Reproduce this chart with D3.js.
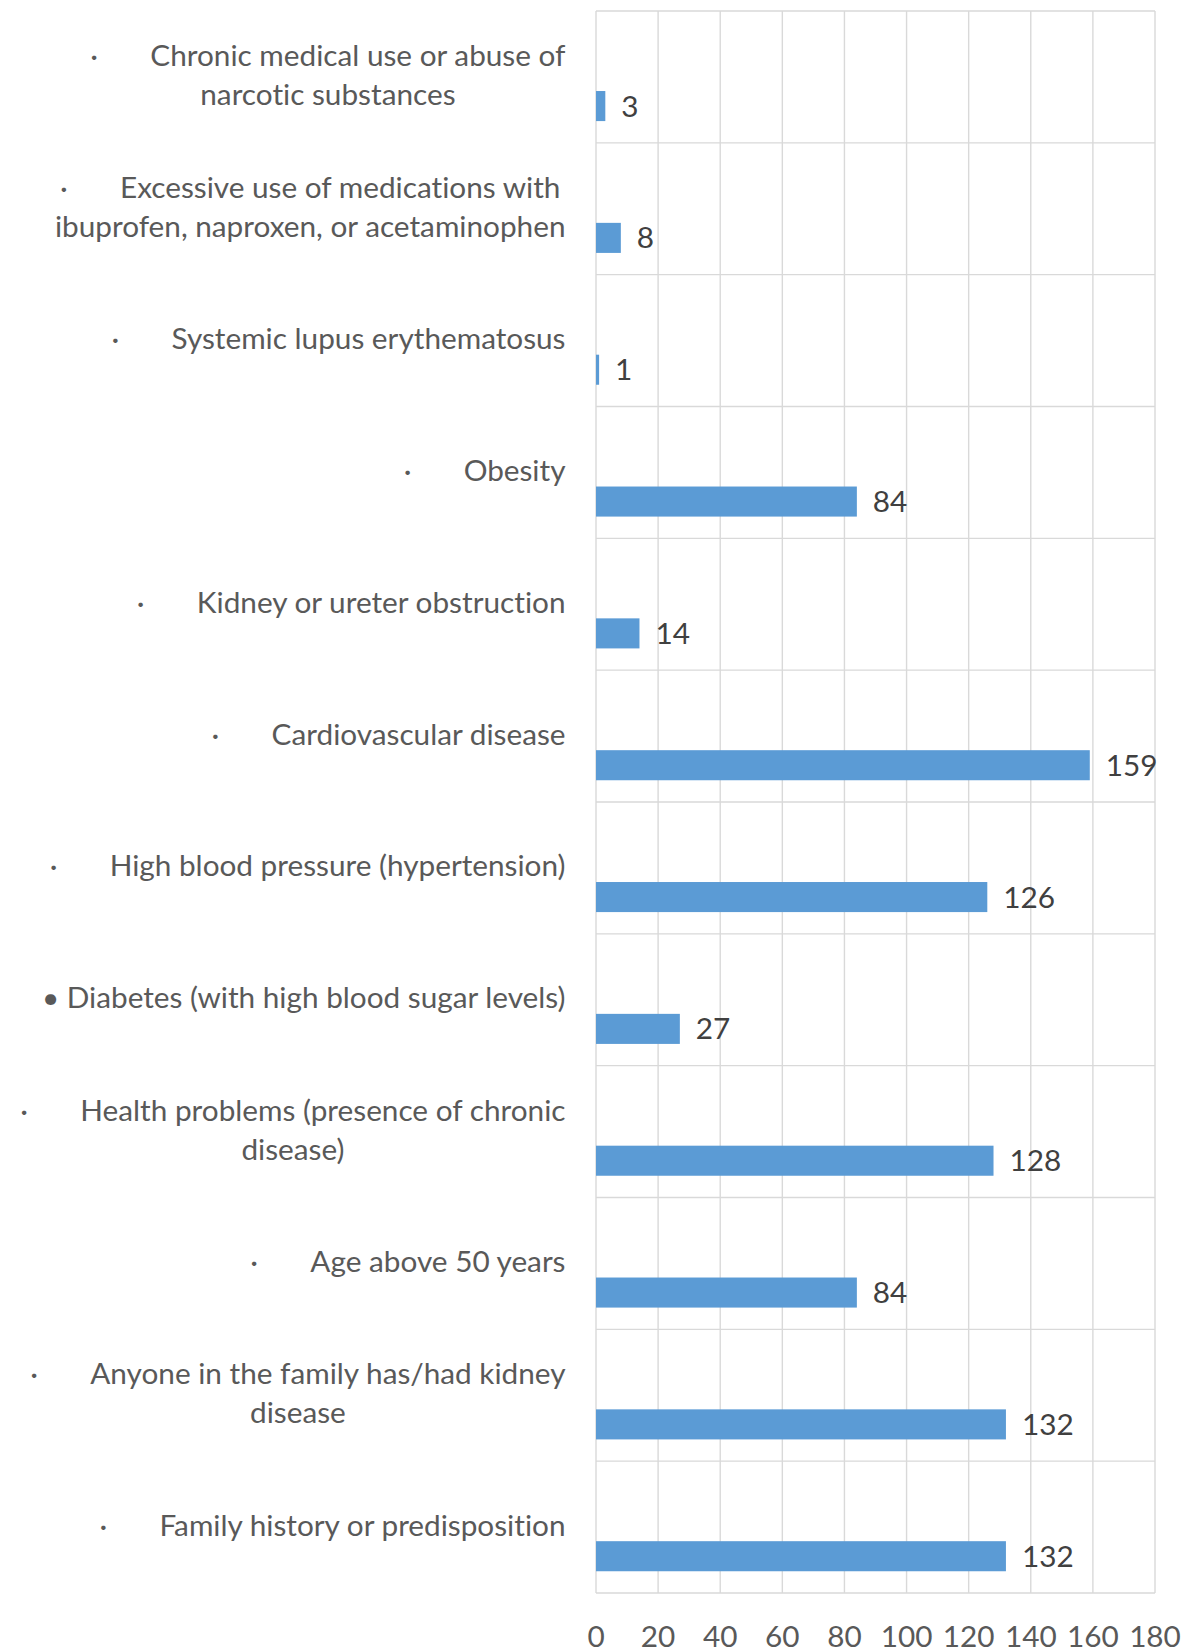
<!DOCTYPE html>
<html><head><meta charset="utf-8">
<script src="https://cdn.jsdelivr.net/npm/d3@7"></script>
<style>body{margin:0;background:#fff} text{font-variant-ligatures:none}</style></head>
<body>
<svg id="c" width="1191" height="1651"></svg>
<script>
// ---- data ----
const categories = [
  ["Chronic medical use or abuse of", "narcotic substances"],
  ["Excessive use of medications with", "ibuprofen, naproxen, or acetaminophen"],
  ["Systemic lupus erythematosus"],
  ["Obesity"],
  ["Kidney or ureter obstruction"],
  ["Cardiovascular disease"],
  ["High blood pressure (hypertension)"],
  ["Diabetes (with high blood sugar levels)"],
  ["Health problems (presence of chronic", "disease)"],
  ["Age above 50 years"],
  ["Anyone in the family has/had kidney", "disease"],
  ["Family history or predisposition"]
];
const bullets = ["·", "·", "·", "·", "·", "·", "·", "•", "·", "·", "·", "·"];
const values = [3, 8, 1, 84, 14, 159, 126, 27, 128, 84, 132, 132];
const tickValues = [0, 20, 40, 60, 80, 100, 120, 140, 160, 180];

// ---- layout ----
const plot = {left: 596, right: 1155, top: 11, bottom: 1593};
const svg = d3.select("#c");
const FONT = "Lato, 'Open Sans', sans-serif";

// fit font size so text widths match the original (Calibri 32px)
const probe = svg.append("text").attr("font-family", FONT).attr("font-size", 32)
  .style("font-variant-ligatures", "none")
  .text("Systemic lupus erythematosus");
const pw = probe.node().getComputedTextLength();
probe.remove();
const FS = 32 * 394 / pw;

const x = d3.scaleLinear().domain([0, 180]).range([plot.left, plot.right]);
const y = d3.scaleBand().domain(d3.range(categories.length)).range([plot.top, plot.bottom]).padding(0);
const bw = y.bandwidth();

// gridlines (vertical)
const grid = svg.append("g");
grid.selectAll("line.v").data(tickValues).join("line")
  .attr("x1", d => x(d)).attr("x2", d => x(d))
  .attr("y1", plot.top).attr("y2", plot.bottom)
  .attr("stroke", "#D9D9D9").attr("stroke-width", 1.4);
// horizontal category separators
grid.selectAll("line.h").data(d3.range(categories.length + 1)).join("line")
  .attr("x1", plot.left).attr("x2", plot.right)
  .attr("y1", d => plot.top + d * bw).attr("y2", d => plot.top + d * bw)
  .attr("stroke", "#D9D9D9").attr("stroke-width", 1.4);

// bars
const barTop = 0.607, barH = 0.228;
svg.append("g").selectAll("rect").data(values).join("rect")
  .attr("x", x(0))
  .attr("y", (d, i) => y(i) + bw * barTop)
  .attr("width", d => x(d) - x(0))
  .attr("height", bw * barH)
  .attr("fill", "#5B9BD5");

// value labels
svg.append("g").selectAll("text").data(values).join("text")
  .attr("x", d => x(d) + 16)
  .attr("y", (d, i) => y(i) + bw * (barTop + barH / 2) - 1)
  .attr("dominant-baseline", "central")
  .attr("font-family", FONT).attr("font-size", FS)
  .attr("fill", "#404040")
  .text(d => d);

// x tick labels
svg.append("g").selectAll("text").data(tickValues).join("text")
  .attr("x", d => x(d)).attr("y", 1635)
  .attr("text-anchor", "middle").attr("dominant-baseline", "central")
  .attr("font-family", FONT).attr("font-size", FS)
  .attr("fill", "#595959")
  .text(d => d);

// category labels
const labelRight = 565.5, lineH = 39, bulletGap = 60, labelShift = -3;
const lg = svg.append("g").attr("font-family", FONT).attr("font-size", FS).attr("fill", "#595959");
function measure(t) {
  const n = lg.append("text").text(t);
  const w = n.node().getComputedTextLength();
  n.remove();
  return w;
}
categories.forEach((lines, i) => {
  const cy = y(i) + bw / 2 + labelShift;
  const big = bullets[i] === "•";
  const first = big ? bullets[i] + " " + lines[0] : lines[0];
  const firstW = big ? measure(first) : bulletGap + measure(first);
  const widths = lines.map((l, j) => j === 0 ? firstW : measure(l));
  const blockW = d3.max(widths);
  const center = labelRight - blockW / 2;
  lines.forEach((l, j) => {
    const ly = cy + (j - (lines.length - 1) / 2) * lineH;
    if (j === 0) {
      const start = center - firstW / 2;
      if (big) {
        lg.append("text").attr("x", start).attr("y", ly).attr("dominant-baseline", "central").text(first);
      } else {
        lg.append("text").attr("x", start).attr("y", ly).attr("dominant-baseline", "central").text(bullets[i]);
        lg.append("text").attr("x", start + bulletGap).attr("y", ly).attr("dominant-baseline", "central").text(l);
      }
    } else {
      lg.append("text").attr("x", center).attr("y", ly).attr("text-anchor", "middle")
        .attr("dominant-baseline", "central").text(l);
    }
  });
});
</script>
</body></html>
